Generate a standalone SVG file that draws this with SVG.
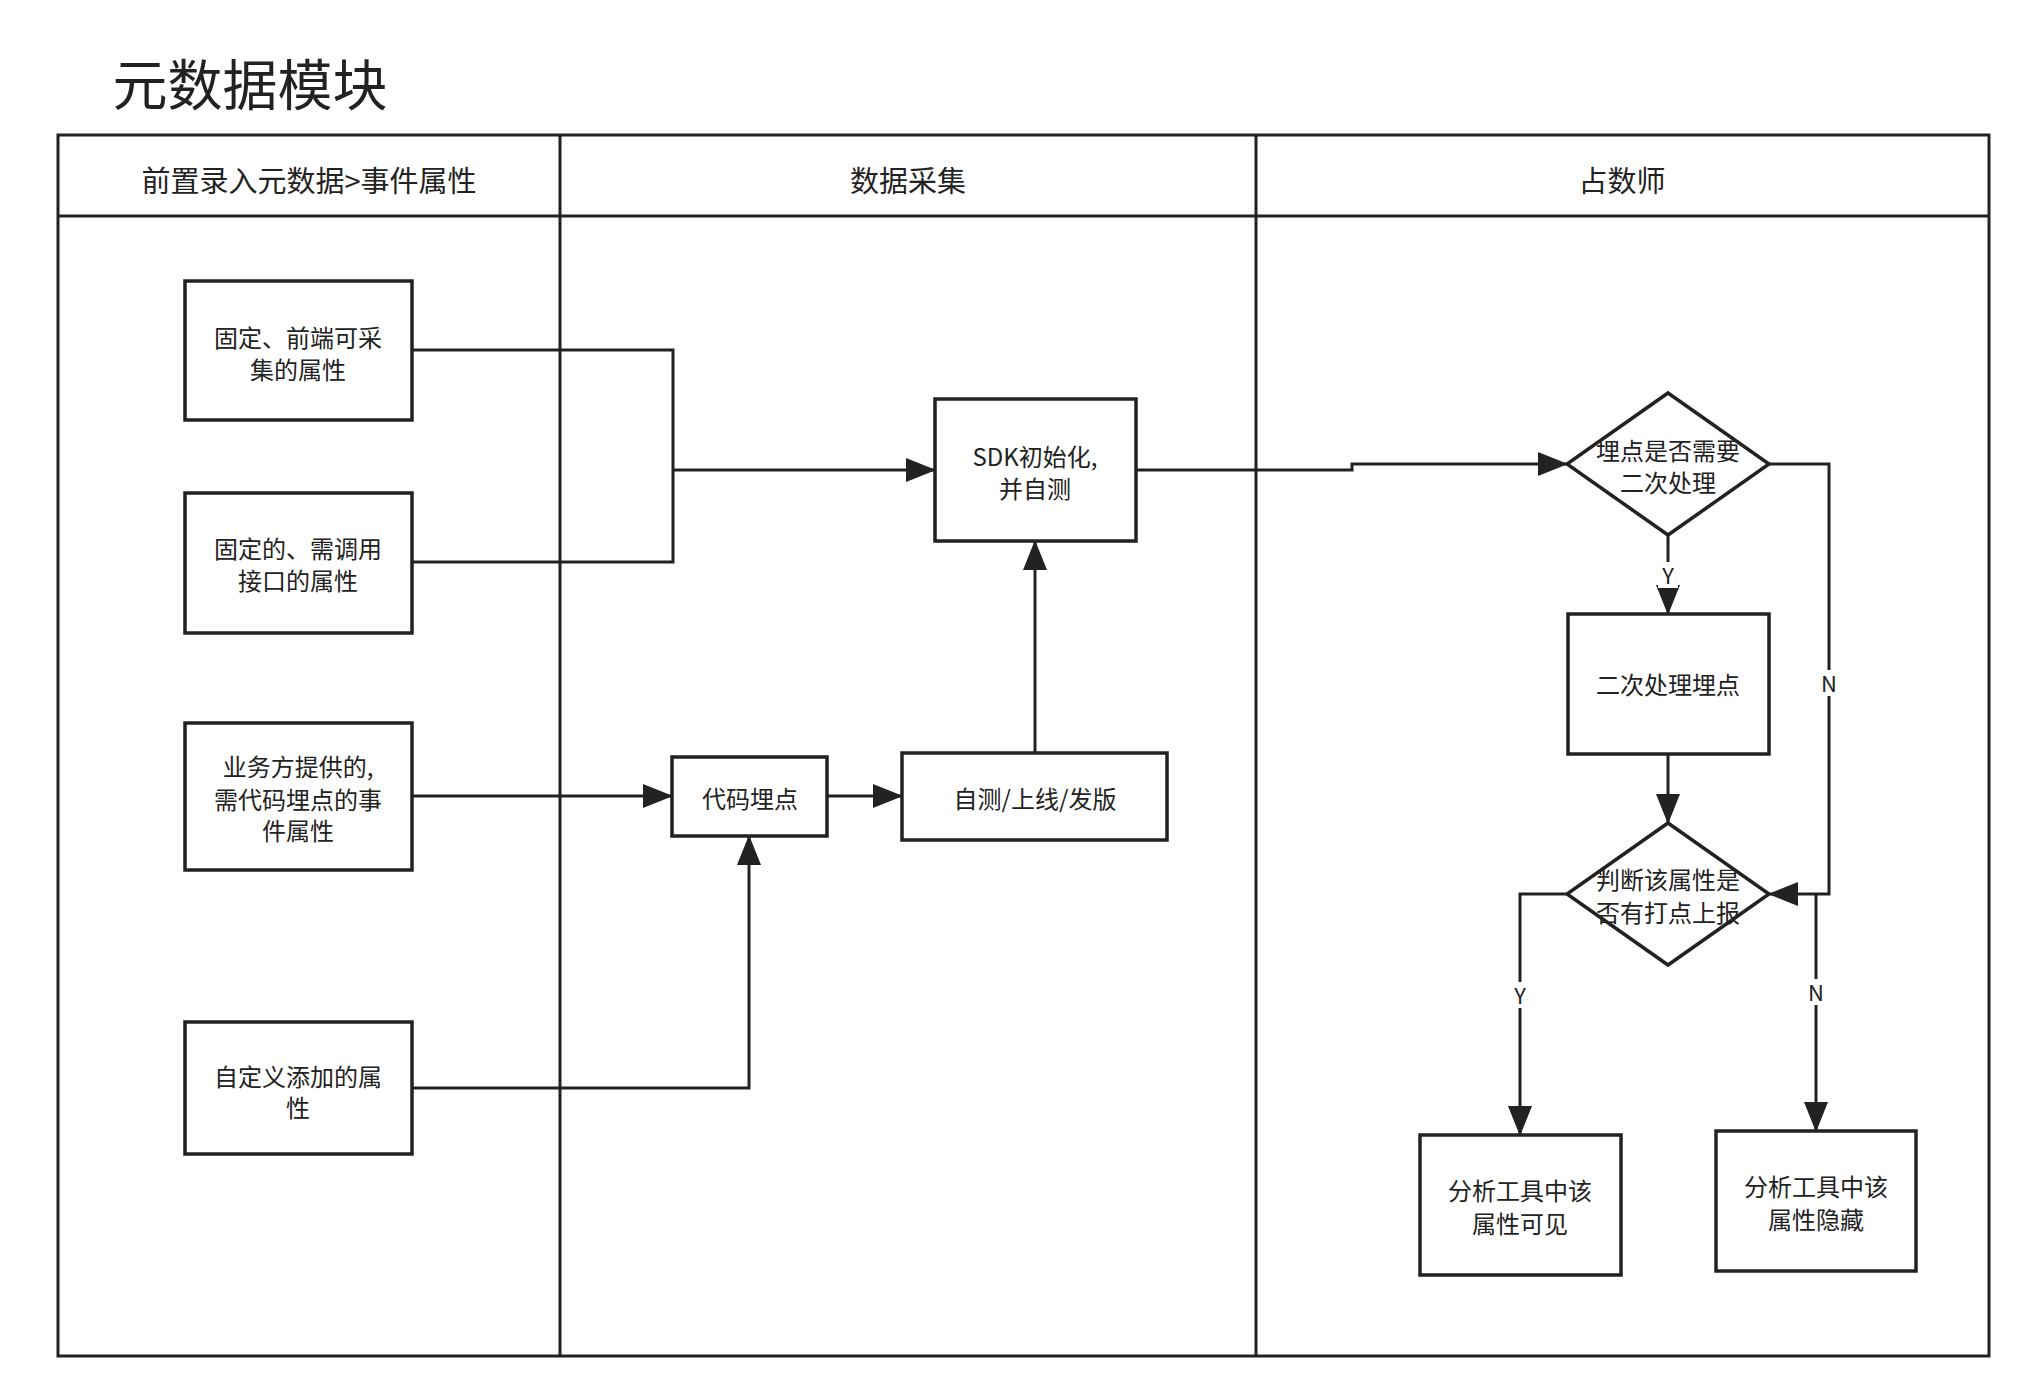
<svg xmlns="http://www.w3.org/2000/svg" width="2028" height="1400" viewBox="0 0 2028 1400">
<style>
text{font-family:"Noto Sans CJK SC","Liberation Sans",sans-serif;fill:#222;text-anchor:middle}
.t{font-size:24px}
.h{font-size:29px}
.b{fill:#fff;stroke:#222;stroke-width:3.5}
.c{fill:none;stroke:#222;stroke-width:3}
.l{font-size:22px}
</style>
<defs><marker id="a" markerWidth="10" markerHeight="10" refX="9" refY="5" orient="auto" markerUnits="userSpaceOnUse" viewBox="0 0 10 10"><path d="M0,0L10,5L0,10z" fill="#222"/></marker>
<marker id="m" markerWidth="30" markerHeight="24" refX="29" refY="12" orient="auto" markerUnits="userSpaceOnUse"><path d="M0,0L30,12L0,24z" fill="#222"/></marker></defs>
<rect width="2028" height="1400" fill="#fff"/>
<text x="250" y="105" style="font-size:55px">元数据模块</text>
<g id="lanes" fill="none" stroke="#222" stroke-width="3">
<rect x="58" y="135" width="1931" height="1221"/>
<line x1="58" y1="216" x2="1989" y2="216"/>
<line x1="560" y1="135" x2="560" y2="1356"/>
<line x1="1256" y1="135" x2="1256" y2="1356"/>
</g>
<text class="h" x="309" y="192">前置录入元数据&gt;事件属性</text>
<text class="h" x="908" y="192">数据采集</text>
<text class="h" x="1622" y="192">占数师</text>
<g id="connectors">
<path class="c" d="M412,350H673V562H412"/>
<path class="c" d="M673,470H935" marker-end="url(#m)"/>
<path class="c" d="M412,796H672" marker-end="url(#m)"/>
<path class="c" d="M412,1088H749V836" marker-end="url(#m)"/>
<path class="c" d="M827,796H902" marker-end="url(#m)"/>
<path class="c" d="M1035,753V541" marker-end="url(#m)"/>
<path class="c" d="M1136,470H1352V464H1567" marker-end="url(#m)"/>
<path class="c" d="M1668,535V614" marker-end="url(#m)"/>
<path class="c" d="M1769,464H1829V894H1769" marker-end="url(#m)"/>
<path class="c" d="M1668,754V823" marker-end="url(#m)"/>
<path class="c" d="M1567,894H1520V1135" marker-end="url(#m)"/>
<path class="c" d="M1816,894V1131" marker-end="url(#m)"/>
<rect x="1658" y="562" width="20" height="26" fill="#fff"/><text class="l" x="1668" y="584">Y</text>
<rect x="1819" y="670" width="20" height="26" fill="#fff"/><text class="l" x="1829" y="692">N</text>
<rect x="1510" y="982" width="20" height="26" fill="#fff"/><text class="l" x="1520" y="1004">Y</text>
<rect x="1806" y="979" width="20" height="26" fill="#fff"/><text class="l" x="1816" y="1001">N</text>
</g>
<g id="n1"><rect class="b" x="185" y="281" width="227" height="139"/><text class="t" x="298" y="347">固定、前端可采</text><text class="t" x="298" y="379">集的属性</text></g>
<g id="n2"><rect class="b" x="185" y="493" width="227" height="140"/><text class="t" x="298" y="558">固定的、需调用</text><text class="t" x="298" y="590">接口的属性</text></g>
<g id="n3"><rect class="b" x="185" y="723" width="227" height="147"/><text class="t" x="298" y="776">业务方提供的,</text><text class="t" x="298" y="809">需代码埋点的事</text><text class="t" x="298" y="840">件属性</text></g>
<g id="n4"><rect class="b" x="185" y="1022" width="227" height="132"/><text class="t" x="298" y="1086">自定义添加的属</text><text class="t" x="298" y="1117">性</text></g>
<g id="sdk"><rect class="b" x="935" y="399" width="201" height="142"/><text class="t" x="1035" y="466">SDK初始化,</text><text class="t" x="1035" y="498">并自测</text></g>
<g id="code"><rect class="b" x="672" y="757" width="155" height="79"/><text class="t" x="750" y="808">代码埋点</text></g>
<g id="test"><rect class="b" x="902" y="753" width="265" height="87"/><text class="t" x="1035" y="808">自测/上线/发版</text></g>
<g id="d1"><polygon class="b" points="1668,393 1769,464 1668,535 1567,464"/><text class="t" x="1668" y="460">埋点是否需要</text><text class="t" x="1668" y="492">二次处理</text></g>
<g id="p2"><rect class="b" x="1568" y="614" width="201" height="140"/><text class="t" x="1668" y="694">二次处理埋点</text></g>
<g id="d2"><polygon class="b" points="1668,823 1769,894 1668,965 1567,894"/><text class="t" x="1668" y="889">判断该属性是</text><text class="t" x="1668" y="922">否有打点上报</text></g>
<g id="vis"><rect class="b" x="1420" y="1135" width="201" height="140"/><text class="t" x="1520" y="1200">分析工具中该</text><text class="t" x="1520" y="1233">属性可见</text></g>
<g id="hid"><rect class="b" x="1716" y="1131" width="200" height="140"/><text class="t" x="1816" y="1196">分析工具中该</text><text class="t" x="1816" y="1229">属性隐藏</text></g>
</svg>
